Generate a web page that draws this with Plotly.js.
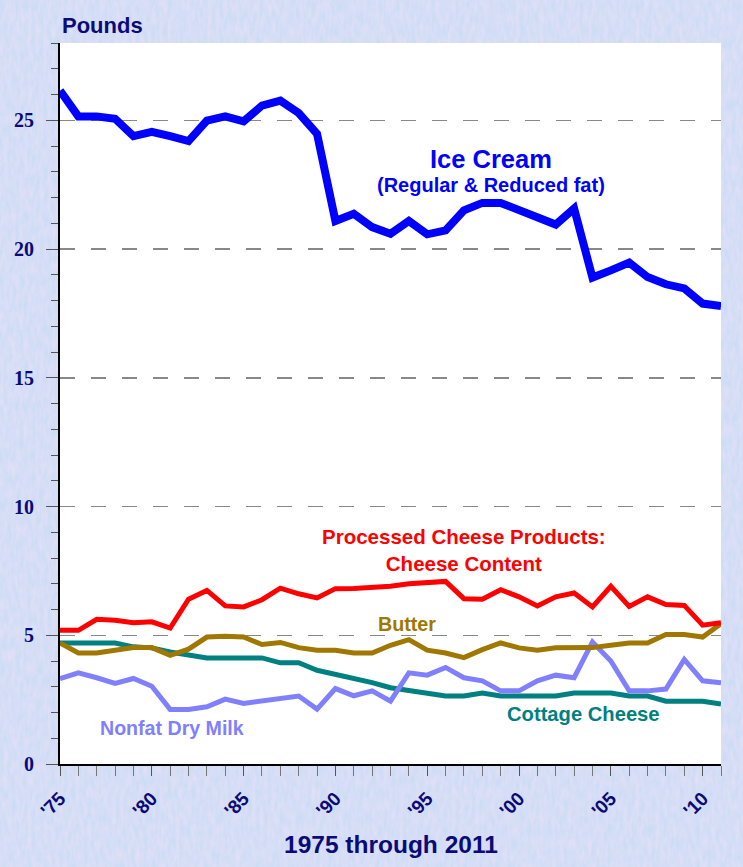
<!DOCTYPE html>
<html>
<head>
<meta charset="utf-8">
<script src="https://cdn.plot.ly/plotly-3.0.1.min.js"></script>
<style>
  html, body { margin: 0; padding: 0; }
  body {
    width: 743px; height: 867px;
    background-color: #cddcf5;
    background-image: url("data:image/svg+xml;utf8,<svg xmlns='http://www.w3.org/2000/svg' width='743' height='867'><filter id='n'><feTurbulence type='fractalNoise' baseFrequency='0.25 0.08' numOctaves='3' seed='4'/><feColorMatrix values='0 0 0 0 0.93  0 0 0 0 0.78  0 0 0 0 0.95  0 0 0 0.8 -0.2'/></filter><rect width='100%' height='100%' filter='url(%23n)'/></svg>");
  }
  #chart { width: 743px; height: 867px; }
</style>
</head>
<body>
<div id="chart"></div>
<script>
const years = [1975,1976,1977,1978,1979,1980,1981,1982,1983,1984,1985,1986,1987,1988,1989,1990,1991,1992,1993,1994,1995,1996,1997,1998,1999,2000,2001,2002,2003,2004,2005,2006,2007,2008,2009,2010,2011];

const iceCream = [26.15,25.15,25.15,25.06,24.38,24.55,24.38,24.19,24.99,25.15,24.96,25.57,25.76,25.28,24.47,21.09,21.37,20.85,20.59,21.09,20.57,20.72,21.50,21.79,21.79,21.53,21.24,20.95,21.57,18.89,19.17,19.47,18.91,18.63,18.47,17.88,17.79];

const processedCheese = [5.19,5.19,5.62,5.58,5.49,5.52,5.28,6.40,6.74,6.14,6.10,6.38,6.83,6.61,6.45,6.81,6.82,6.85,6.90,7.00,7.04,7.09,6.42,6.40,6.77,6.49,6.14,6.49,6.64,6.10,6.90,6.12,6.49,6.19,6.16,5.39,5.49];

const butter = [4.70,4.31,4.31,4.42,4.52,4.52,4.22,4.46,4.93,4.96,4.93,4.64,4.72,4.52,4.42,4.42,4.31,4.31,4.61,4.83,4.42,4.31,4.13,4.44,4.70,4.51,4.42,4.51,4.52,4.52,4.61,4.70,4.70,5.03,5.03,4.93,5.45];

const cottageCheese = [4.70,4.70,4.70,4.70,4.55,4.51,4.35,4.22,4.12,4.12,4.12,4.12,3.93,3.93,3.64,3.48,3.36,3.16,2.96,2.84,2.74,2.64,2.64,2.76,2.64,2.64,2.64,2.64,2.76,2.76,2.76,2.64,2.64,2.44,2.44,2.44,2.33];

const nonfatDryMilk = [3.32,3.54,3.35,3.13,3.32,3.02,2.12,2.12,2.22,2.52,2.35,2.44,2.55,2.64,2.13,2.93,2.65,2.84,2.44,3.54,3.45,3.75,3.35,3.23,2.84,2.84,3.23,3.45,3.35,4.74,4.00,2.84,2.84,2.91,4.06,3.23,3.15];

const xTickVals = [1975,1980,1985,1990,1995,2000,2005,2010];
const xTickText = ["'75","'80","'85","'90","'95","'00","'05","'10"];
const yTickVals = [0,5,10,15,20,25];
const yTickText = ["0","5","10","15","20","25"];

const NAVY = '#0a0a78';
const SANS = 'Arial, "Liberation Sans", sans-serif';

function line(y, color, width, name) {
  return { x: years, y: y, type: 'scatter', mode: 'lines', name: name,
           line: { color: color, width: width, shape: 'linear' }, hoverinfo: 'skip' };
}

const traces = [
  line(cottageCheese, '#008080', 5, 'Cottage Cheese'),
  line(nonfatDryMilk, '#8080ff', 5, 'Nonfat Dry Milk'),
  line(butter, '#a07800', 5, 'Butter'),
  line(processedCheese, '#ff0000', 5, 'Processed Cheese Products'),
  line(iceCream, '#0000ff', 8, 'Ice Cream')
];

function label(x, y, text, color, size) {
  return { x: x, y: y, xref: 'x', yref: 'y', text: text, showarrow: false,
           xanchor: 'center', yanchor: 'middle',
           font: { family: SANS, size: size, color: color, weight: 'bold' } };
}

const layout = {
  width: 743, height: 867,
  margin: { l: 60, r: 22, t: 43, b: 103 },
  paper_bgcolor: 'rgba(0,0,0,0)',
  plot_bgcolor: '#ffffff',
  showlegend: false,
  xaxis: {
    range: [1975, 2011],
    tickvals: xTickVals, ticktext: xTickText,
    ticks: 'outside', ticklen: 10, tickwidth: 1, tickcolor: '#555',
    minor: { dtick: 1, tick0: 1975, ticks: 'outside', ticklen: 10, tickwidth: 1, tickcolor: '#777', showgrid: false },
    tickangle: -45,
    ticklabelstandoff: 4,
    tickfont: { family: SANS, size: 19, color: NAVY, weight: 'bold' },
    showgrid: false, zeroline: false,
    showline: true, linecolor: '#000', linewidth: 2,
    fixedrange: true
  },
  yaxis: {
    range: [0, 28],
    tickvals: yTickVals, ticktext: yTickText,
    ticks: 'outside', ticklen: 12, tickwidth: 1, tickcolor: '#555',
    minor: { dtick: 1, tick0: 0, ticks: 'outside', ticklen: 7, tickwidth: 1, tickcolor: '#555', showgrid: false },
    ticklabelstandoff: 8,
    tickfont: { family: '"Times New Roman", "Liberation Serif", serif', size: 20, color: NAVY, weight: 'bold' },
    showgrid: true, gridcolor: '#888888', gridwidth: 1.5, griddash: '15px,16px',
    zeroline: false,
    showline: true, linecolor: '#000', linewidth: 2,
    fixedrange: true
  },
  annotations: [
    { xref: 'paper', yref: 'paper', x: 0, y: 1, xanchor: 'left', yanchor: 'bottom', yshift: 3,
      text: 'Pounds', showarrow: false,
      font: { family: SANS, size: 22, color: NAVY, weight: 'bold' } },
    { xref: 'paper', yref: 'paper', x: 0.5, y: -0.112, xanchor: 'center', yanchor: 'middle',
      text: '1975 through 2011', showarrow: false,
      font: { family: SANS, size: 24.5, color: NAVY, weight: 'bold' } },
    label(1998.5, 23.5, 'Ice Cream', '#0000ff', 25.5),
    label(1998.5, 22.5, '(Regular &amp; Reduced fat)', '#0000ff', 20),
    label(1997.0, 8.32, 'Processed Cheese Products:<br>Cheese Content', '#ff0000', 20.5),
    label(1993.9, 5.43, 'Butter', '#a07800', 19.7),
    label(2003.5, 1.94, 'Cottage Cheese', '#008080', 20.2),
    label(1981.1, 1.40, 'Nonfat Dry Milk', '#8080ff', 19.6)
  ]
};

Plotly.newPlot('chart', traces, layout, { staticPlot: true, displayModeBar: false });
</script>
</body>
</html>
